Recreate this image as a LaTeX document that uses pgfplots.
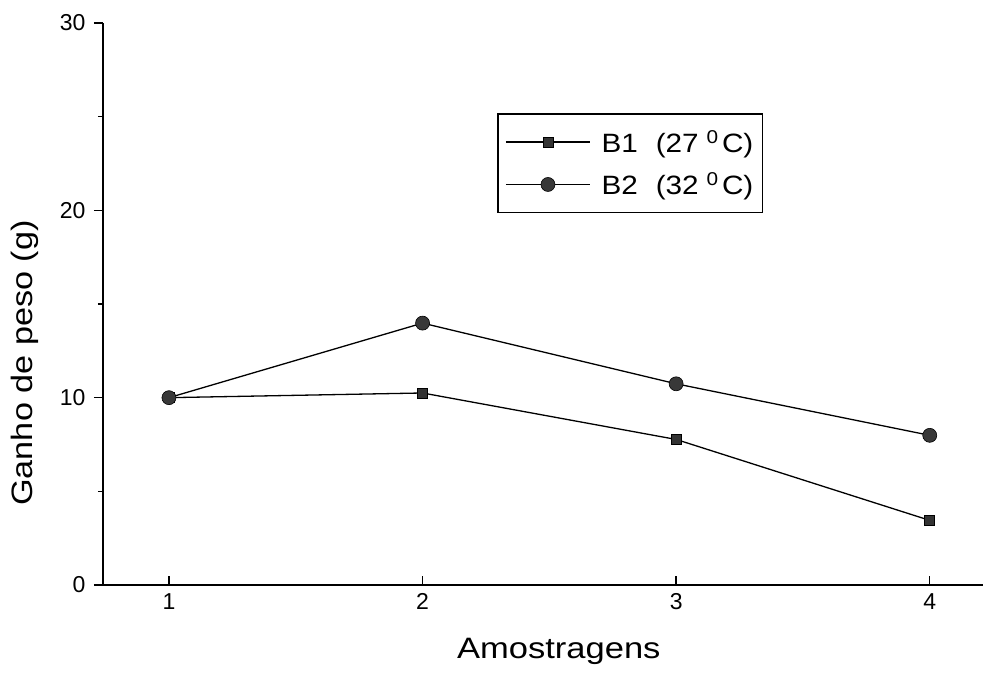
\documentclass[border=0pt]{standalone}
\usepackage{fontspec}
\setmainfont{Liberation Sans}
\usepackage{pgfplots}
\pgfplotsset{compat=1.18}
\begin{document}
\begin{tikzpicture}
\begin{axis}[
  scale only axis,
  width=880pt, height=562pt,
  xmin=0.74, xmax=4.21,
  ymin=0, ymax=30,
  axis x line=bottom, axis y line=left,
  axis line style={-, line width=1.8pt},
  xtick={1,2,3,4},
  ytick={0,10,20,30},
  minor ytick={5,15,25},
  tick align=inside,
  major tick length=9pt,
  minor tick length=5pt,
  every tick/.style={black, line width=1.3pt},
  every major y tick/.append style={xshift=-9pt},
  every minor y tick/.append style={xshift=-5pt},
  /pgf/number format/assume math mode=true,
  tick label style={font=\fontsize{23}{27}\selectfont},
  xticklabel style={yshift=-5pt},
  yticklabel style={xshift=-14pt},
  xlabel={\scalebox{1.17}[1]{Amostragens}},
  ylabel={\scalebox{1.16}[1]{Ganho de peso (g)}},
  every axis x label/.style={at={(axis description cs:0.518,-0.118)}, anchor=center, font=\fontsize{29.5}{34}\selectfont},
  every axis y label/.style={at={(axis description cs:-0.0886,0.395)}, anchor=center, rotate=90, font=\fontsize{29.5}{34}\selectfont},
  legend style={at={(0.449,0.838)}, anchor=north west, draw=none, fill=none, name=leg,
    font=\fontsize{26.5}{31}\selectfont, inner xsep=7pt, inner ysep=14pt, row sep=15pt,
    cells={anchor=west}},
  legend image code/.code={\draw[mark repeat=2,mark phase=2,#1] plot coordinates {(0pt,0pt) (42pt,0pt) (84pt,0pt)};},
]
\addplot[black, line width=1.3pt, mark=square*, mark size=5pt,
  mark options={fill=black!80, draw=black, line width=0.6pt}]
  coordinates {(1,10.0) (2,10.25) (3,7.77) (4,3.45)};
\addlegendentry{\hspace{9pt}\scalebox{1.12}[1]{B1\hspace{16pt}(27\hspace{7pt}\textsuperscript{0}\hspace{3pt}C)}}
\addplot[black, line width=1.3pt, mark=*, mark size=7pt,
  mark options={fill=black!78, draw=black, line width=0.6pt}]
  coordinates {(1,10.0) (2,13.98) (3,10.74) (4,7.99)};
\addlegendentry{\hspace{9pt}\scalebox{1.12}[1]{B2\hspace{16pt}(32\hspace{7pt}\textsuperscript{0}\hspace{3pt}C)}}
\end{axis}
\draw[line width=1.5pt] (leg.north west) rectangle (leg.south east);
\pgfresetboundingbox
\path (current axis.south west) ++(-103pt,-87pt) coordinate (bbA);
\path (current axis.north east) ++(4pt,23pt) coordinate (bbB);
\path[use as bounding box] (bbA) rectangle (bbB);
\end{tikzpicture}
\end{document}
